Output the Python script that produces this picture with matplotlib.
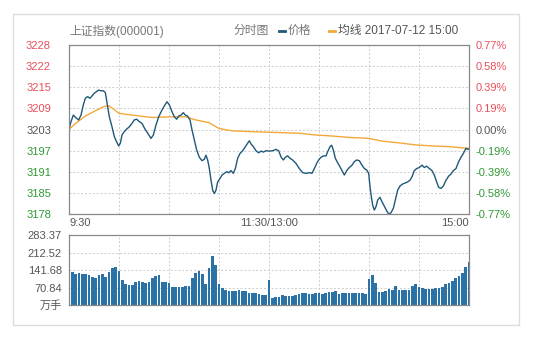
import matplotlib.pyplot as plt
from matplotlib.patches import Rectangle
from matplotlib.lines import Line2D

plt.rcParams['font.family'] = ['Liberation Sans', 'Noto Sans CJK SC', 'DejaVu Sans']

# minutes since 9:30 (trading minutes, lunch break removed) and index level
price_min = [0, 1.2, 2.6, 4.2, 5.8, 7.2, 8.6, 9.8, 11.2, 12.6, 13.8, 15.2, 16.6, 17.8, 19.2,
             20.6, 21.8, 23.2, 24.2, 25.8, 27.2, 28.6, 29.8, 30.8, 31.8, 33.2, 34.6, 36.2,
             37.8, 39.2, 40.6, 42.2, 43.8, 45.4, 47.2, 49.2, 50.6, 52.2, 53.8, 55.8, 57.6,
             58.8, 60.2, 61.8, 63.2, 64.6, 65.8, 67.2, 68.6, 69.8, 71.2, 72.6, 73.8, 75.2,
             76.6, 78.2, 79.8, 81.2, 82.2, 83.2, 84.2, 85.2, 86.2, 87.2, 88.2, 89.2, 90.6,
             91.8, 93.2, 94.6, 95.8, 97.2, 98.6, 99.8, 101.2, 102.6, 104.2, 105.8, 107.2,
             108.2, 109.2, 110.6, 112.2, 113.8, 115.2, 116.6, 118.2, 120.2, 122.2, 124.2,
             125.8, 127.2, 128.6, 129.8, 131.2, 132.6, 134.2, 136.2, 138.2, 140.2, 142.2,
             144.2, 145.8, 147.2, 148.6, 149.8, 151.2, 152.6, 154.2, 155.2, 156.6, 157.6,
             158.6, 159.8, 161.2, 162.6, 163.8, 165.2, 166.6, 168.2, 169.8, 171.2, 172.6,
             174.2, 175.8, 177.2, 178.6, 179.8, 180.6, 181.4, 182.2, 183.2, 184.2, 185.2,
             186.6, 187.8, 189.2, 190.6, 191.8, 193.2, 194.6, 195.8, 197.2, 198.6, 200.2,
             201.8, 203.2, 204.6, 205.8, 207.2, 208.6, 210.2, 211.8, 213.2, 214.6, 216.2,
             217.8, 219.2, 220.6, 221.8, 223.2, 224.6, 226.2, 227.8, 229.2, 230.6, 232.2,
             233.8, 235.2, 236.6, 238.2, 239.4, 240]
price = [3203.0, 3205.3, 3207.2, 3206.4, 3205.8, 3207.2, 3210.2, 3212.1, 3212.6, 3212.1,
         3212.8, 3213.6, 3214.1, 3214.5, 3214.3, 3214.3, 3213.8, 3209.7, 3206.7, 3203.8,
         3200.9, 3199.4, 3198.2, 3199.0, 3201.4, 3202.4, 3203.1, 3203.8, 3204.8, 3205.8,
         3206.0, 3205.3, 3204.8, 3203.3, 3201.9, 3200.4, 3201.4, 3204.3, 3206.7, 3208.7,
         3210.2, 3211.1, 3210.2, 3208.2, 3206.7, 3206.0, 3206.9, 3207.2, 3207.9, 3207.2,
         3206.9, 3205.8, 3202.9, 3200.0, 3197.0, 3194.9, 3193.9, 3194.3, 3195.5, 3194.1,
         3191.6, 3188.2, 3185.3, 3184.3, 3185.3, 3187.7, 3188.7, 3189.7, 3190.2, 3190.7,
         3190.4, 3191.0, 3190.2, 3191.6, 3194.6, 3196.0, 3196.8, 3198.0, 3199.0, 3199.7,
         3198.8, 3198.0, 3196.8, 3196.2, 3196.7, 3196.4, 3196.8, 3196.7, 3196.8, 3197.2,
         3196.8, 3195.0, 3194.1, 3194.9, 3195.3, 3194.6, 3194.1, 3193.1, 3191.6, 3190.4,
         3190.2, 3190.4, 3190.2, 3191.6, 3193.1, 3194.1, 3194.9, 3195.3, 3195.3, 3196.5,
         3198.0, 3198.4, 3197.0, 3194.6, 3193.3, 3192.1, 3191.0, 3189.7, 3191.0, 3191.9,
         3192.6, 3193.6, 3194.1, 3193.9, 3192.6, 3191.6, 3191.2, 3190.2, 3186.3, 3183.4,
         3180.9, 3179.5, 3180.5, 3182.4, 3183.2, 3181.9, 3180.6, 3179.3, 3178.3, 3178.7,
         3180.0, 3182.4, 3185.3, 3186.5, 3187.1, 3187.4, 3187.7, 3188.2, 3189.2, 3191.0,
         3191.6, 3191.9, 3192.6, 3191.9, 3192.3, 3191.6, 3191.0, 3189.7, 3187.7, 3186.1,
         3185.8, 3186.5, 3188.2, 3189.4, 3190.0, 3191.0, 3191.6, 3193.6, 3194.9, 3196.0,
         3197.5, 3197.2, 3197.3]

avg_min = [0, 4, 10, 16, 21, 24, 27, 30, 38, 50, 60, 70, 76, 84, 90, 98, 108, 120, 138,
           148, 158, 168, 180, 188, 198, 208, 218, 228, 240]
avg_price = [3203.0, 3204.8, 3207.0, 3208.5, 3209.7, 3209.9, 3208.9, 3207.7, 3207.2,
             3206.5, 3206.7, 3206.7, 3205.8, 3205.0, 3203.3, 3202.6, 3202.4, 3202.2,
             3201.9, 3201.4, 3201.1, 3200.7, 3200.4, 3199.6, 3199.1, 3198.5, 3198.2,
             3198.0, 3197.5]

vol_min = list(range(0, 241, 2))
volume = [283, 135, 125, 128, 124, 126, 121, 115, 108, 121, 125, 113, 132, 148, 152, 138,
          100, 85, 79, 81, 92, 98, 92, 90, 92, 108, 117, 120, 92, 95, 90, 72, 74, 72, 74,
          77, 75, 108, 130, 138, 125, 85, 150, 198, 160, 86, 68, 60, 58, 55, 58, 62, 55,
          55, 48, 47, 49, 44, 41, 41, 101,
          29, 34, 34, 40, 37, 36, 37, 42, 45, 50, 47, 45, 45, 50, 47, 45, 50, 51, 54, 55,
          46, 50, 48, 50, 47, 49, 47, 49, 46, 104, 122, 88, 54, 51, 58, 63, 62, 75, 62, 60,
          61, 62, 78, 86, 73, 67, 63, 66, 64, 70, 70, 74, 85, 90, 98, 108, 117, 130, 155,
          175]

prev_close = 3203.0
pct_max = 0.77
price_labels = ['3178', '3185', '3191', '3197', '3203', '3209', '3215', '3222', '3228']
pct_labels = ['-0.77%', '-0.58%', '-0.39%', '-0.19%', '0.00%', '0.19%', '0.39%', '0.58%', '0.77%']
vol_ticks = [0, 70.84, 141.68, 212.52, 283.37]
vol_labels = ['万手', '70.84', '141.68', '212.52', '283.37']
time_labels = ['9:30', '11:30/13:00', '15:00']

RED = '#e8505b'
GREEN = '#2e9a34'
GRAY = '#555555'
LINE = '#1f5878'
AVG = '#f2a93a'
BAR = '#2b72a6'
GRID = '#cccccc'

fig = plt.figure(figsize=(5.34, 3.38), dpi=100)
fig.patches.append(Rectangle((13 / 534, 13 / 338), 506 / 534, 311 / 338, transform=fig.transFigure,
                             fill=False, edgecolor='#dddddd', linewidth=1))

ax = fig.add_axes([69 / 534, 1 - 214 / 338, 400 / 534, 169 / 338])
span = prev_close * pct_max / 100
ax.set_xlim(0, 240)
ax.set_ylim(prev_close - span, prev_close + span)
ax.plot(avg_min, avg_price, color=AVG, lw=1.0)
ax.plot(price_min, price, color=LINE, lw=1.0)

yt = [prev_close - span + i * span / 4 for i in range(9)]
ax.set_yticks(yt)
ax.set_yticklabels(price_labels)
ax.set_xticks(range(0, 241, 30))
ax.set_xticklabels([])
ax.grid(True, color=GRID, ls=(0, (2, 2)), lw=0.7)
ax.tick_params(length=0, labelsize=8, pad=13)
for i, lab in enumerate(ax.get_yticklabels()):
    lab.set_color(RED if i > 4 else (GREEN if i < 4 else GRAY))
for s in ax.spines.values():
    s.set_color('#888888')
    s.set_linewidth(0.9)

ax2 = ax.twinx()
ax2.set_ylim(ax.get_ylim())
ax2.set_yticks(yt)
ax2.set_yticklabels(pct_labels)
ax2.tick_params(length=0, labelsize=8, pad=5)
for i, lab in enumerate(ax2.get_yticklabels()):
    lab.set_color(RED if i > 4 else (GREEN if i < 4 else GRAY))
for s in ax2.spines.values():
    s.set_visible(False)

# time labels under the price panel
ax.text(0, -0.025, time_labels[0], transform=ax.transAxes, ha='left', va='top', fontsize=8, color=GRAY)
ax.text(0.5, -0.025, time_labels[1], transform=ax.transAxes, ha='center', va='top', fontsize=8, color=GRAY)
ax.text(1, -0.025, time_labels[2], transform=ax.transAxes, ha='right', va='top', fontsize=8, color=GRAY)

vax = fig.add_axes([69 / 534, 1 - 305 / 338, 400 / 534, 70 / 338])
vax.bar(vol_min, volume, width=1.5, color=BAR, align='center')
vax.set_xlim(0, 240)
vax.set_ylim(0, vol_ticks[-1])
vax.set_yticks(vol_ticks)
vax.set_yticklabels(vol_labels)
vax.set_xticks(range(0, 241, 30))
vax.set_xticklabels([])
vax.grid(True, color=GRID, ls=(0, (2, 2)), lw=0.7)
vax.set_axisbelow(True)
vax.tick_params(length=0, labelsize=8, pad=5, labelcolor=GRAY)
for s in vax.spines.values():
    s.set_color('#888888')
    s.set_linewidth(0.9)

# header
ty = 1 - 31 / 338
fig.text(69 / 534, ty, '上证指数(000001)', fontsize=8.5, color='#777777', va='center')
fig.text(233 / 534, ty, '分时图', fontsize=8.5, color='#777777', va='center')
fig.lines.append(Line2D([279 / 534, 285 / 534], [ty, ty], color=LINE, lw=2, transform=fig.transFigure))
fig.text(288 / 534, ty, '价格', fontsize=8.5, color='#777777', va='center')
fig.lines.append(Line2D([329 / 534, 335 / 534], [ty, ty], color=AVG, lw=2, transform=fig.transFigure))
fig.text(338 / 534, ty, '均线 2017-07-12 15:00', fontsize=8.5, color='#555555', va='center')

fig.savefig('out.png', dpi=100, facecolor='white')
